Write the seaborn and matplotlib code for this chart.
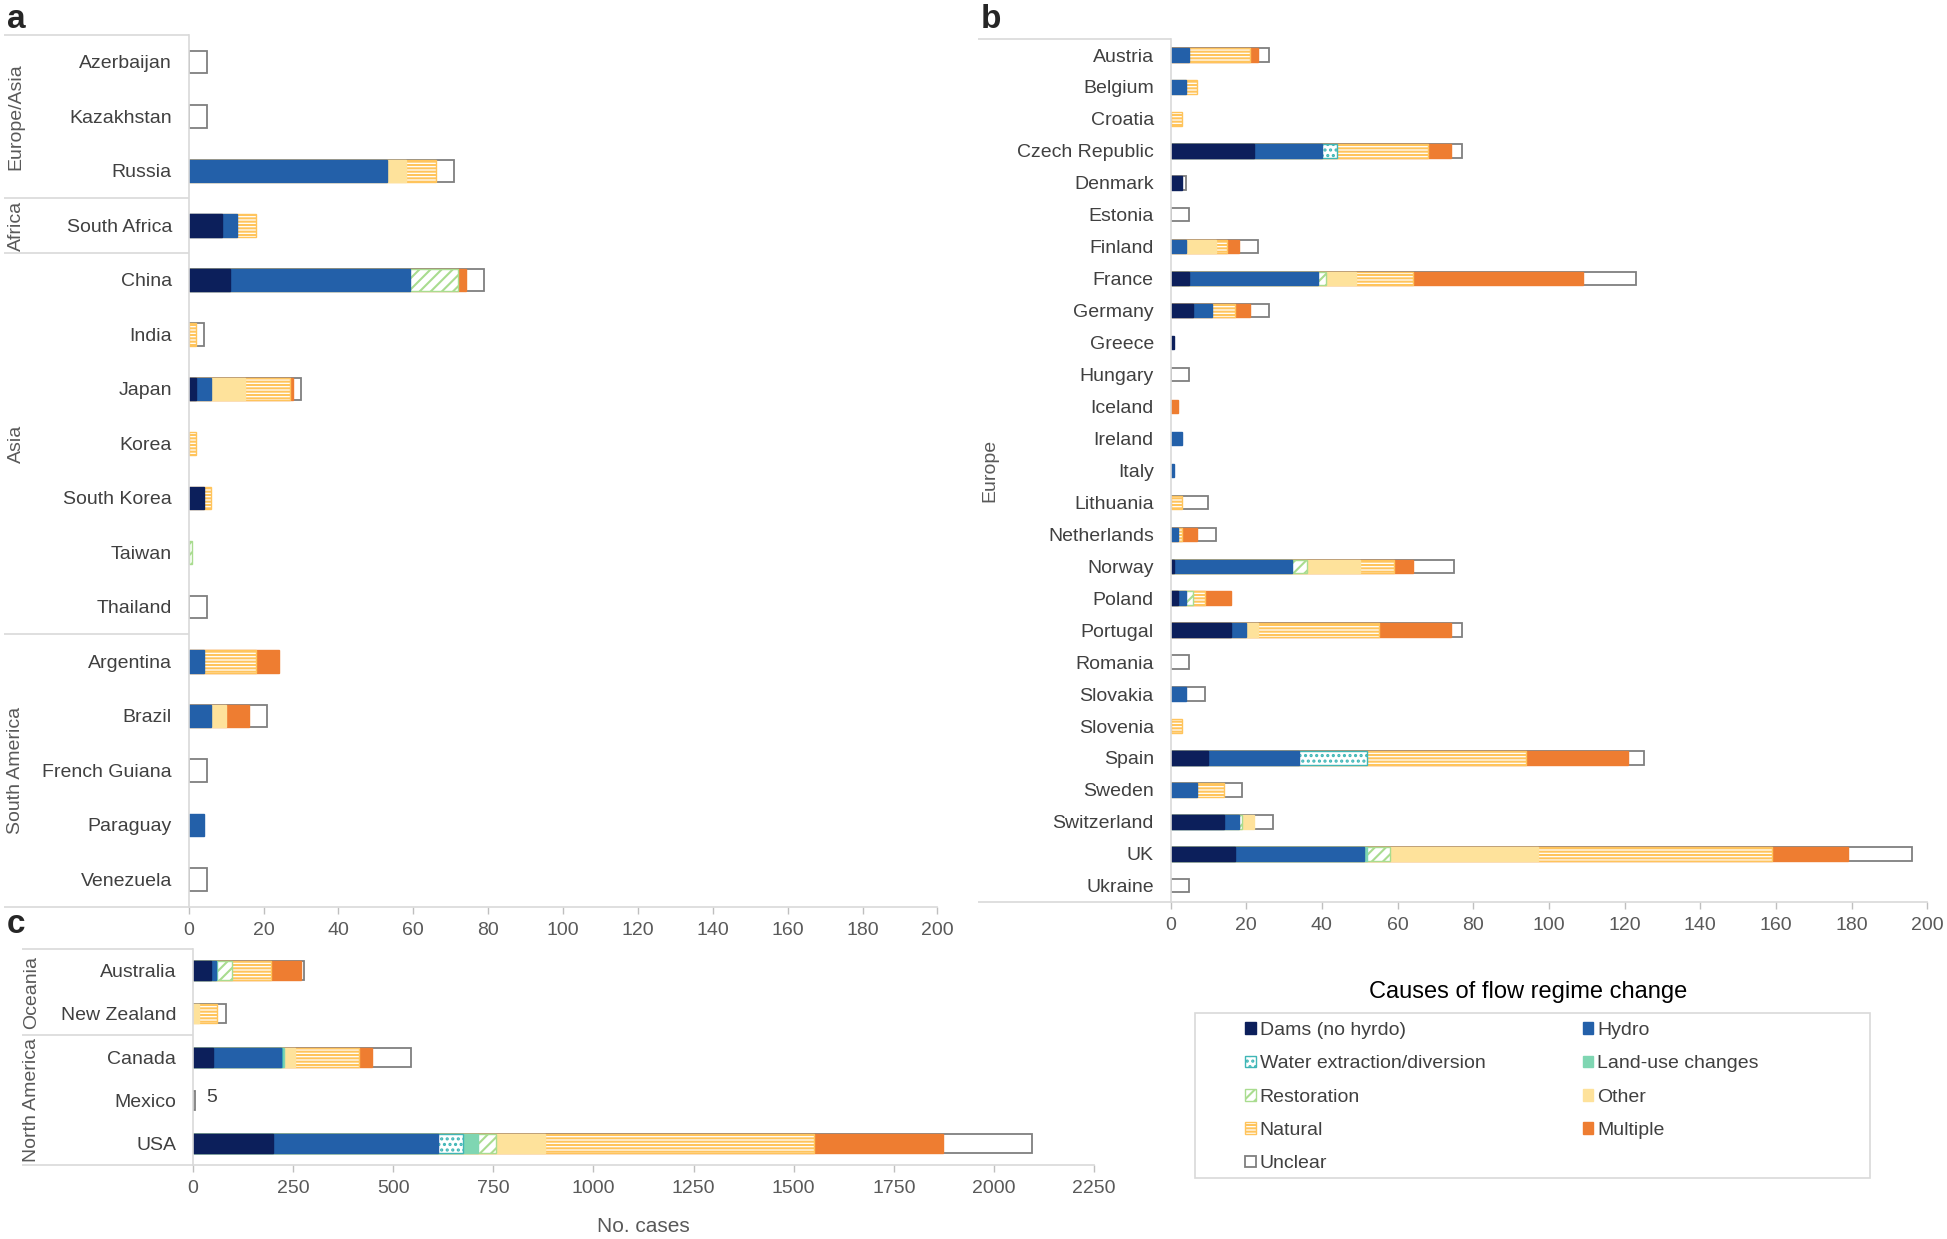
import numpy as np
import pandas as pd
import matplotlib
matplotlib.use('Agg')
import matplotlib.pyplot as plt
import matplotlib.patches as mpatches
import seaborn as sns

sns.set_style('white')
plt.rcParams['font.family'] = ['Liberation Sans', 'DejaVu Sans']
plt.rcParams['hatch.linewidth'] = 1.5

causes = ['Dams (no hyrdo)', 'Hydro', 'Water extraction/diversion', 'Land-use changes',
          'Restoration', 'Other', 'Natural', 'Multiple', 'Unclear']

# panel a: Europe/Asia, Africa, Asia, South America
a_countries = ['Azerbaijan', 'Kazakhstan', 'Russia', 'South Africa', 'China', 'India', 'Japan',
               'Korea', 'South Korea', 'Taiwan', 'Thailand', 'Argentina', 'Brazil',
               'French Guiana', 'Paraguay', 'Venezuela']
a_dams     = [0, 0, 0, 9, 11, 0, 2, 0, 4, 0, 0, 0, 0, 0, 0, 0]
a_hydro    = [0, 0, 53, 4, 48, 0, 4, 0, 0, 0, 0, 4, 6, 0, 4, 0]
a_water    = [0, 0, 0, 0, 0, 0, 0, 0, 0, 0, 0, 0, 0, 0, 0, 0]
a_landuse  = [0, 0, 0, 0, 0, 0, 0, 0, 0, 0, 0, 0, 0, 0, 0, 0]
a_restor   = [0, 0, 0, 0, 13, 0, 0, 0, 0, 1, 0, 0, 0, 0, 0, 0]
a_other    = [0, 0, 5, 0, 0, 0, 9, 0, 0, 0, 0, 0, 4, 0, 0, 0]
a_natural  = [0, 0, 8, 5, 0, 2, 12, 2, 2, 0, 0, 14, 0, 0, 0, 0]
a_multiple = [0, 0, 0, 0, 2, 0, 1, 0, 0, 0, 0, 6, 6, 0, 0, 0]
a_unclear  = [5, 5, 5, 0, 5, 2, 2, 0, 0, 0, 5, 0, 5, 5, 0, 5]
a_regions = [('Europe/Asia', 0, 2), ('Africa', 3, 3), ('Asia', 4, 10), ('South America', 11, 15)]

# panel b: Europe
b_countries = ['Austria', 'Belgium', 'Croatia', 'Czech Republic', 'Denmark', 'Estonia', 'Finland',
               'France', 'Germany', 'Greece', 'Hungary', 'Iceland', 'Ireland', 'Italy',
               'Lithuania', 'Netherlands', 'Norway', 'Poland', 'Portugal', 'Romania', 'Slovakia',
               'Slovenia', 'Spain', 'Sweden', 'Switzerland', 'UK', 'Ukraine']
b_dams     = [0, 0, 0, 22, 3, 0, 0, 5, 6, 1, 0, 0, 0, 0, 0, 0, 1, 2, 16, 0, 0, 0, 10, 0, 14, 17, 0]
b_hydro    = [5, 4, 0, 18, 0, 0, 4, 34, 5, 0, 0, 0, 3, 1, 0, 2, 31, 2, 4, 0, 4, 0, 24, 7, 4, 34, 0]
b_water    = [0, 0, 0, 4, 0, 0, 0, 0, 0, 0, 0, 0, 0, 0, 0, 0, 0, 0, 0, 0, 0, 0, 18, 0, 0, 0, 0]
b_landuse  = [0, 0, 0, 0, 0, 0, 0, 0, 0, 0, 0, 0, 0, 0, 0, 0, 0, 0, 0, 0, 0, 0, 0, 0, 0, 1, 0]
b_restor   = [0, 0, 0, 0, 0, 0, 0, 2, 0, 0, 0, 0, 0, 0, 0, 0, 4, 2, 0, 0, 0, 0, 0, 0, 1, 6, 0]
b_other    = [0, 0, 0, 0, 0, 0, 8, 8, 0, 0, 0, 0, 0, 0, 0, 0, 14, 0, 3, 0, 0, 0, 0, 0, 3, 39, 0]
b_natural  = [16, 3, 3, 24, 0, 0, 3, 15, 6, 0, 0, 0, 0, 0, 3, 1, 9, 3, 32, 0, 0, 3, 42, 7, 0, 62, 0]
b_multiple = [2, 0, 0, 6, 0, 0, 3, 45, 4, 0, 0, 2, 0, 0, 0, 4, 5, 7, 19, 0, 0, 0, 27, 0, 0, 20, 0]
b_unclear  = [3, 0, 0, 3, 1, 5, 5, 14, 5, 0, 5, 0, 0, 0, 7, 5, 11, 0, 3, 5, 5, 0, 4, 5, 5, 17, 5]
b_regions = [('Europe', 0, 26)]

# panel c: Oceania, North America
c_countries = ['Australia', 'New Zealand', 'Canada', 'Mexico', 'USA']
c_dams     = [45, 0, 51, 0, 200]
c_hydro    = [12, 0, 168, 0, 413]
c_water    = [0, 0, 3, 0, 62]
c_landuse  = [3, 0, 5, 0, 38]
c_restor   = [37, 0, 0, 0, 44]
c_other    = [0, 14, 27, 0, 122]
c_natural  = [99, 45, 161, 0, 671]
c_multiple = [74, 0, 32, 0, 324]
c_unclear  = [8, 24, 98, 5, 221]
c_regions = [('Oceania', 0, 1), ('North America', 2, 4)]

styles = {
    'Dams (no hyrdo)':            dict(face='#0c1f5b', edge='#0c1f5b', hatch=None, lw=1.0),
    'Hydro':                      dict(face='#2360a9', edge='#2360a9', hatch=None, lw=1.0),
    'Water extraction/diversion': dict(face='white', edge='#3fb6b6', hatch='...', lw=1.0),
    'Land-use changes':           dict(face='#7fd6b2', edge='#7fd6b2', hatch=None, lw=1.0),
    'Restoration':                dict(face='white', edge='#a9dc8f', hatch='///', lw=1.0),
    'Other':                      dict(face='#fee29b', edge='#fee29b', hatch=None, lw=1.0),
    'Natural':                    dict(face='white', edge='#ffc45c', hatch='-----', lw=1.0),
    'Multiple':                   dict(face='#ee7d31', edge='#ee7d31', hatch=None, lw=1.0),
    'Unclear':                    dict(face='white', edge='#7f7f7f', hatch=None, lw=1.3),
}

line_col = '#d9d9d9'
text_col = '#404040'
tick_col = '#595959'


def draw_panel(ax, countries, series, bar_width, regions, label_x, line_x, xmax, xstep):
    table = pd.DataFrame(dict(zip(causes, series)), index=countries)
    ends = table.cumsum(axis=1)
    # draw the cumulative bars from the outermost segment inwards
    for cause in causes[::-1]:
        part = pd.DataFrame({'country': countries, 'end': ends[cause].values})
        part = part[table[cause].values > 0]
        if part.empty:
            continue
        st = styles[cause]
        sns.barplot(data=part, x='end', y='country', order=countries, orient='h',
                    width=bar_width, color=st['face'], saturation=1, errorbar=None,
                    edgecolor=st['edge'], linewidth=st['lw'], hatch=st['hatch'], ax=ax)

    n = len(countries)
    ax.set_ylim(n - 0.5, -0.5)
    ax.set_xlim(0, xmax)
    ax.set_xticks(np.arange(0, xmax + 1, xstep))
    ax.set_xlabel('')
    ax.set_ylabel('')
    for side in ['top', 'right']:
        ax.spines[side].set_visible(False)
    for side in ['left', 'bottom']:
        ax.spines[side].set_color(line_col)
        ax.spines[side].set_linewidth(1.2)
    ax.tick_params(axis='y', length=0, pad=12, labelsize=14, labelcolor=text_col)
    ax.tick_params(axis='x', length=5, width=1, color='#bfbfbf', pad=6,
                   labelsize=14, labelcolor=tick_col, bottom=True)

    trans = ax.get_yaxis_transform()
    bounds = [-0.5]
    for name, start, stop in regions:
        ax.text(label_x, (start + stop) / 2, name, transform=trans, rotation=90,
                ha='center', va='center', fontsize=14, color=tick_col)
        bounds.append(stop + 0.5)
    for y in bounds:
        ax.plot([line_x, 0], [y, y], transform=trans, color=line_col, lw=1.2,
                clip_on=False, solid_capstyle='butt')
    return table


fig = plt.figure(figsize=(19.47, 12.39), dpi=100)

ax_a = fig.add_axes([0.0969, 0.2682, 0.3846, 0.7038])
ax_b = fig.add_axes([0.6012, 0.2722, 0.3887, 0.6963])
ax_c = fig.add_axes([0.0991, 0.0597, 0.4628, 0.1743])

draw_panel(ax_a, a_countries,
           [a_dams, a_hydro, a_water, a_landuse, a_restor, a_other, a_natural, a_multiple, a_unclear],
           0.41, a_regions, -0.2306, -0.2467, 200, 20)
draw_panel(ax_b, b_countries,
           [b_dams, b_hydro, b_water, b_landuse, b_restor, b_other, b_natural, b_multiple, b_unclear],
           0.42, b_regions, -0.2387, -0.2545, 200, 20)
c_table = draw_panel(ax_c, c_countries,
                     [c_dams, c_hydro, c_water, c_landuse, c_restor, c_other, c_natural, c_multiple, c_unclear],
                     0.44, c_regions, -0.179, -0.1897, 2250, 250)

ax_c.set_xlabel('No. cases', fontsize=15, color=tick_col, labelpad=14)
mex = c_countries.index('Mexico')
ax_c.annotate(str(int(c_table.loc['Mexico'].sum())), xy=(c_table.loc['Mexico'].sum(), mex),
              xytext=(8, 2), textcoords='offset points', va='center', ha='left',
              fontsize=14, color=text_col)

fig.text(0.0036, 0.977, 'a', fontsize=24, fontweight='bold', va='baseline')
fig.text(0.5039, 0.977, 'b', fontsize=24, fontweight='bold', va='baseline')
fig.text(0.0036, 0.247, 'c', fontsize=24, fontweight='bold', va='baseline')

# legend, laid out row by row like the original
handles = {}
for cause in causes:
    st = styles[cause]
    handles[cause] = mpatches.Patch(facecolor=st['face'], edgecolor=st['edge'],
                                    hatch=st['hatch'], linewidth=st['lw'], label=cause)
legend_order = ['Dams (no hyrdo)', 'Water extraction/diversion', 'Restoration', 'Natural', 'Unclear',
                'Hydro', 'Land-use changes', 'Other', 'Multiple']
fig.legend(handles=[handles[c] for c in legend_order], loc='upper left',
           bbox_to_anchor=(0.6395, 1 - 1022 / 1239), ncol=2, frameon=False, fontsize=14,
           handlelength=0.55, handleheight=0.55, handletextpad=0.2, columnspacing=5.0,
           labelspacing=0.84, borderpad=0, borderaxespad=0, labelcolor=text_col)
fig.add_artist(mpatches.Rectangle((0.6136, 0.0492), 0.3467, 0.1332, transform=fig.transFigure,
                                  fill=False, edgecolor=line_col, linewidth=1.2))
fig.text(0.7848, 0.1996, 'Causes of flow regime change', ha='center', va='center',
         fontsize=17, color='black')

fig.savefig('out.png', dpi=100)
